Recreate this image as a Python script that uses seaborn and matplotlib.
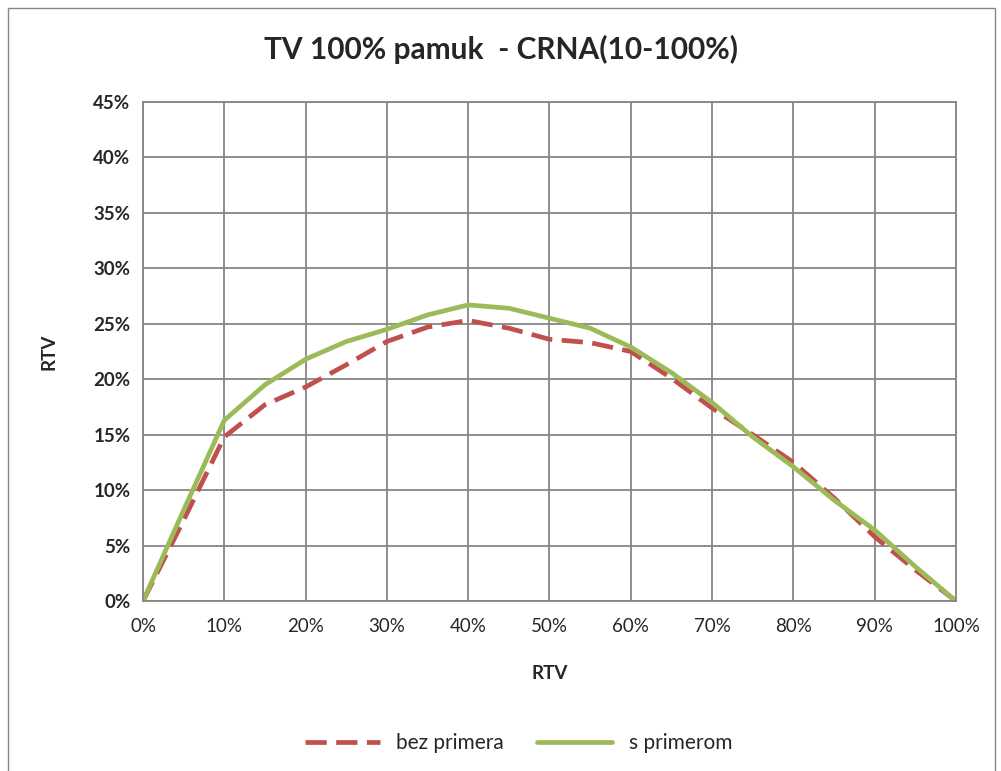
import matplotlib
matplotlib.use('Agg')
import matplotlib.pyplot as plt
import seaborn as sns
import pandas as pd
from matplotlib.patches import Rectangle
from matplotlib.ticker import PercentFormatter

# values (percent)
x_rtv = [0, 5, 10, 15, 20, 25, 30, 35, 40, 45, 50, 55, 60, 65, 70, 75, 80, 85, 90, 95, 100]
bez_primera = [0, 7.3, 14.8, 17.7, 19.3, 21.3, 23.4, 24.7, 25.3, 24.6, 23.6, 23.3, 22.5,
               20.1, 17.4, 15.0, 12.5, 9.3, 5.8, 2.8, 0]
s_primerom = [0, 8.2, 16.3, 19.5, 21.8, 23.4, 24.5, 25.8, 26.7, 26.4, 25.5, 24.6, 22.9,
              20.6, 17.9, 14.8, 12.1, 9.1, 6.4, 3.1, 0]

df = pd.DataFrame({'x': x_rtv, 'bez primera': bez_primera, 's primerom': s_primerom})
df = df.melt(id_vars='x', var_name='serija', value_name='y')

sns.set_style('white')
plt.rcParams['font.family'] = ['Lato', 'DejaVu Sans']

fig = plt.figure(figsize=(10.01, 7.71), dpi=100)
ax = fig.add_axes([0.1429, 0.2205, 0.9550 - 0.1429, 0.8677 - 0.2205])

sns.lineplot(data=df, x='x', y='y', hue='serija', style='serija',
             palette={'bez primera': '#C0504D', 's primerom': '#9BBB59'},
             dashes={'bez primera': (4.5, 2), 's primerom': ''},
             linewidth=3.4, ax=ax)

ax.set_xlim(0, 100)
ax.set_ylim(0, 45)
ax.set_xticks(range(0, 101, 10))
ax.set_yticks(range(0, 46, 5))
ax.xaxis.set_major_formatter(PercentFormatter(decimals=0))
ax.yaxis.set_major_formatter(PercentFormatter(decimals=0))
ax.grid(True, color='#868686', linewidth=1.3)
ax.set_axisbelow(True)
for s in ax.spines.values():
    s.set_color('#868686')
    s.set_linewidth(1.3)
ax.tick_params(axis='both', length=0)
ax.tick_params(axis='x', pad=12)
ax.tick_params(axis='y', pad=9)
for lab in ax.get_yticklabels():
    lab.set_fontsize(13.5)
    lab.set_fontweight('bold')
for lab in ax.get_xticklabels():
    lab.set_fontsize(13.5)

ax.set_xlabel('RTV', fontsize=13.5, fontweight='bold', labelpad=22)
ax.set_ylabel('RTV', fontsize=13.5, fontweight='bold', labelpad=26)
fig.suptitle('TV 100% pamuk  - CRNA(10-100%)', fontsize=21.5, fontweight='bold', y=0.955)

ax.legend(title=None, loc='center', bbox_to_anchor=(0.462, -0.285), ncol=2,
          frameon=False, fontsize=15, handlelength=3.6, columnspacing=1.6)

fig.patches.append(Rectangle((0.008, -0.01), 0.986, 1.0, transform=fig.transFigure,
                             fill=False, edgecolor='#868686', linewidth=1))

plt.savefig('out.png', dpi=100)
